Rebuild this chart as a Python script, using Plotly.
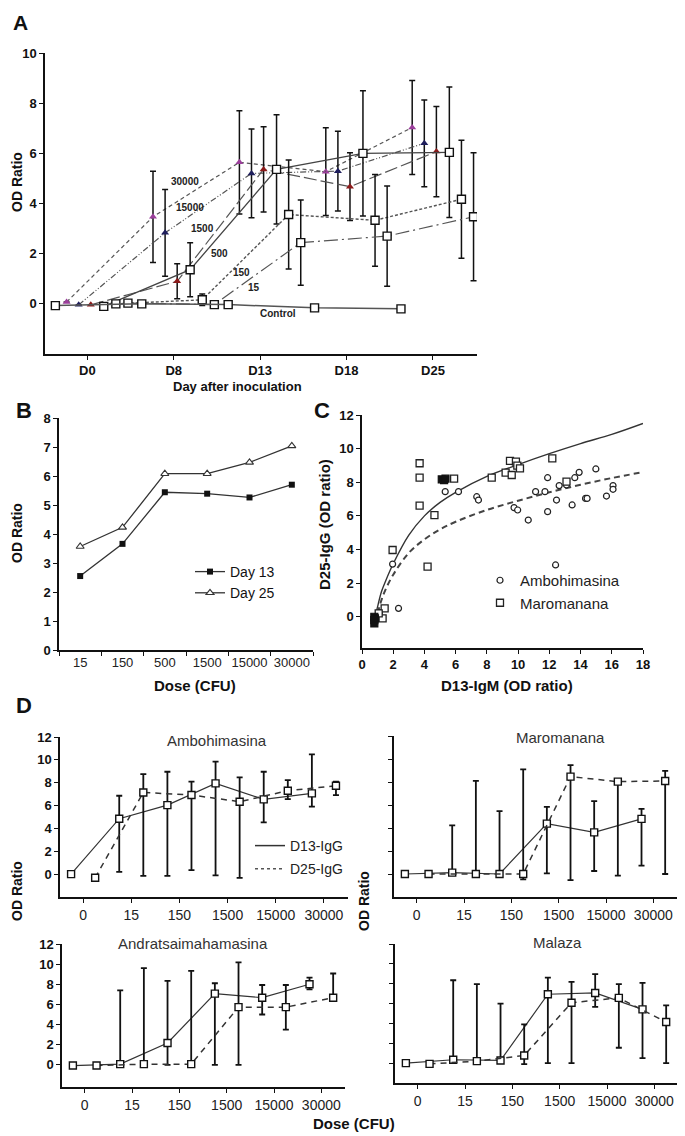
import plotly.graph_objects as go

# ---------------- Panel A data ----------------
days = ["D0", "D8", "D13", "D18", "D25"]
a_groups = ["30000", "15000", "1500", "500", "150", "15", "Control"]
a_vals = {
    "30000": [0.07, 3.47, 5.64, 5.27, 7.03],
    "15000": [-0.04, 2.83, 5.20, 5.29, 6.40],
    "1500": [-0.04, 0.90, 5.36, 4.67, 6.07],
    "500": [-0.10, 1.36, 5.36, 6.00, 6.04],
    "150": [0.00, 0.16, 3.56, 3.33, 4.17],
    "15": [0.03, -0.03, 2.44, 2.70, 3.47],
    "Control": [-0.07, 0.00, -0.03, -0.16, -0.20],
}
a_err = {
    "30000": [0, 1.82, 2.06, 1.75, 1.87],
    "15000": [0, 1.73, 1.77, 1.59, 1.73],
    "1500": [0, 0.70, 1.70, 1.35, 1.80],
    "500": [0, 1.08, 2.18, 2.50, 2.60],
    "150": [0, 0.23, 2.17, 1.83, 2.35],
    "15": [0, 0, 1.70, 2.00, 2.55],
    "Control": [0, 0, 0, 0, 0],
}

# ---------------- Panel B data ----------------
b_doses = ["15", "150", "500", "1500", "15000", "30000"]
b_day13 = [2.55, 3.66, 5.44, 5.39, 5.26, 5.70]
b_day25 = [3.57, 4.23, 6.08, 6.08, 6.47, 7.04]

# ---------------- Panel C data ----------------
c_amb_x = [0.9, 1.11, 1.96, 2.34, 5.33, 6.18, 7.35, 7.46, 9.74, 9.97, 10.65, 11.12, 11.72, 11.89,
           11.89, 12.46, 12.63, 12.40, 13.10, 13.46, 13.63, 13.91, 14.32, 14.42, 14.98, 15.66,
           16.08, 16.08]
c_amb_y = [0.0, 0.24, 3.13, 0.50, 7.44, 7.44, 7.14, 6.94, 6.49, 6.35, 5.75, 7.44, 7.44, 8.27,
           6.25, 6.94, 7.80, 3.08, 7.84, 6.65, 8.27, 8.59, 7.04, 7.04, 8.79, 7.18, 7.80, 7.58]
c_mar_x = [3.69, 3.69, 3.69, 1.96, 4.20, 4.64, 5.90, 8.31, 9.20, 9.59, 9.48, 9.86, 9.95, 10.12,
           12.19, 13.10, 1.45, 1.32, 1.07]
c_mar_y = [9.13, 8.27, 6.61, 3.97, 2.98, 6.05, 8.21, 8.27, 8.57, 8.43, 9.27, 9.23, 8.99, 8.83,
           9.42, 8.04, 0.50, -0.10, 0.20]
c_mar_dense_x = [5.11, 5.26, 5.35, 0.79, 0.79, 0.79, 0.83]
c_mar_dense_y = [8.17, 8.13, 8.21, 0.0, -0.2, -0.4, -0.1]
c_fit1_x = [0.85, 1.0, 1.25, 1.5, 2, 3, 4, 5, 6, 8, 10, 12, 14, 16, 18]
c_fit1_y = [0.0, 0.6, 1.5, 2.1, 3.15, 4.85, 6.0, 6.8, 7.4, 8.35, 9.05, 9.7, 10.3, 10.85, 11.5]
c_fit2_x = [1.0, 1.25, 1.5, 2, 3, 4, 5, 6, 8, 10, 12, 14, 16, 18]
c_fit2_y = [0.2, 1.0, 1.6, 2.5, 3.8, 4.6, 5.2, 5.65, 6.35, 6.9, 7.4, 7.85, 8.25, 8.6]

# ---------------- Panel D data ----------------
d_doses = ["0", "15", "150", "1500", "15000", "30000"]
d_sites = ["Ambohimasina", "Maromanana", "Andratsaimahamasina", "Malaza"]
d13 = {
    "Ambohimasina": [0, 4.85, 6.04, 7.94, 6.54, 7.07],
    "Maromanana": [0, 0.12, 0, 4.38, 3.62, 4.79],
    "Andratsaimahamasina": [-0.07, 0.07, 2.17, 7.07, 6.67, 8.0],
    "Malaza": [0, 0.34, 0.27, 6.94, 7.07, 5.42],
}
d13_up = {
    "Ambohimasina": [0, 2.01, 2.92, 1.90, 2.42, 3.41],
    "Maromanana": [0, 4.11, 5.46, 1.46, 2.72, 0.87],
    "Andratsaimahamasina": [0, 7.33, 6.16, 1.03, 1.26, 0.67],
    "Malaza": [0, 8.01, 5.73, 1.68, 1.89, 2.66],
}
d13_dn = {
    "Ambohimasina": [0, 4.65, 6.19, 8.04, 2.01, 1.17],
    "Maromanana": [0, 0.12, 0, 4.32, 3.36, 4.06],
    "Andratsaimahamasina": [0, 0.07, 2.17, 7.07, 1.67, 0.50],
    "Malaza": [0, 0.34, 0.27, 6.94, 1.41, 4.92],
}
d25 = {
    "Ambohimasina": [-0.32, 7.15, 6.92, 6.34, 7.30, 7.74],
    "Maromanana": [0, 0, 0, 8.47, 8.03, 8.09],
    "Andratsaimahamasina": [-0.07, 0.07, 0.07, 5.73, 5.73, 6.67],
    "Malaza": [-0.07, 0.20, 0.77, 6.09, 6.57, 4.14],
}
d25_up = {
    "Ambohimasina": [0, 1.61, 1.17, 2.13, 0.93, 0.35],
    "Maromanana": [0, 8.09, 9.10, 0.99, 0, 0.87],
    "Andratsaimahamasina": [0, 9.53, 9.26, 4.44, 2.20, 2.40],
    "Malaza": [0, 7.75, 3.13, 2.09, 1.38, 1.68],
}
d25_dn = {
    "Ambohimasina": [0, 7.30, 6.57, 6.66, 0.73, 0.82],
    "Maromanana": [0, 0.23, 0.47, 9.00, 8.18, 8.09],
    "Andratsaimahamasina": [0, 0.07, 0.07, 5.73, 2.23, 0.30],
    "Malaza": [0, 0.20, 0.87, 6.09, 5.02, 4.14],
}

# ---------------- layout helpers ----------------
W, H = 685, 1136
PAGE_OFFSET = 8  # default <body> margin of the page that holds the figure
FONT = "Liberation Sans, Arial, Helvetica, sans-serif"
INK = "#111111"


def px(x):
    return (x - PAGE_OFFSET) / W


def py(y):
    return 1 - (y - PAGE_OFFSET) / H


def xd(a, b):
    return [px(a), px(b)]


def yd(top, bottom):
    return [py(bottom), py(top)]


def axis(**kw):
    base = dict(showline=True, linecolor=INK, linewidth=1.5, ticks="outside", ticklen=4,
                tickwidth=1.3, tickcolor=INK, showgrid=False, zeroline=False, tickangle=0,
                tickfont=dict(family=FONT, size=13, color=INK, weight="bold"))
    base.update(kw)
    return base


fig = go.Figure()

# ---------------- Panel A ----------------
A_OFFSET = {"30000": -0.24, "15000": -0.10, "1500": 0.04, "500": 0.19,
            "150": 0.33, "15": 0.47, "Control": -0.37}
A_STYLE = {
    "30000": dict(line=dict(color="#555", width=1.2, dash="4px,3px"),
                  marker=dict(symbol="triangle-up", size=7, color="#9b3f9b")),
    "15000": dict(line=dict(color="#555", width=1.2, dash="6px,2px,1px,2px,1px,2px"),
                  marker=dict(symbol="triangle-up", size=7, color="#1e1e5c")),
    "1500": dict(line=dict(color="#555", width=1.2, dash="13px,4px"),
                 marker=dict(symbol="triangle-up", size=7, color="#8b1a1a")),
    "500": dict(line=dict(color="#444", width=1.3),
                marker=dict(symbol="square", size=8, color="white", line=dict(color=INK, width=1.4))),
    "150": dict(line=dict(color="#555", width=1.4, dash="3px,2px"),
                marker=dict(symbol="square", size=8, color="white", line=dict(color=INK, width=1.4))),
    "15": dict(line=dict(color="#555", width=1.2, dash="14px,4px,2px,4px"),
               marker=dict(symbol="square", size=8, color="white", line=dict(color=INK, width=1.4))),
    "Control": dict(line=dict(color="#555", width=1.5),
                    marker=dict(symbol="square", size=8, color="white", line=dict(color=INK, width=1.4))),
}
for g in a_groups:
    xs = [i + A_OFFSET[g] for i in range(len(days))]
    fig.add_trace(go.Scatter(
        x=xs, y=a_vals[g], mode="lines+markers", name=g, showlegend=False,
        error_y=dict(type="data", array=a_err[g], visible=True, color=INK, thickness=1.5, width=3),
        xaxis="x", yaxis="y", **A_STYLE[g]))

A_LABEL_POS = {"30000": (1.13, 4.88), "15000": (1.19, 3.84), "1500": (1.33, 3.0),
               "500": (1.53, 2.02), "150": (1.78, 1.25), "15": (1.93, 0.64),
               "Control": (2.21, -0.37)}
annotations = []
for g in a_groups:
    lx, ly = A_LABEL_POS[g]
    annotations.append(dict(x=lx, y=ly, xref="x", yref="y", text=g, showarrow=False,
                            font=dict(family=FONT, size=10, color="#222", weight="bold")))

# ---------------- Panel B ----------------
fig.add_trace(go.Scatter(x=b_doses, y=b_day13, mode="lines+markers", name="Day 13",
                         line=dict(color="#333", width=1.3),
                         marker=dict(symbol="square", size=6, color=INK),
                         xaxis="x2", yaxis="y2", legend="legend"))
fig.add_trace(go.Scatter(x=b_doses, y=b_day25, mode="lines+markers", name="Day 25",
                         line=dict(color="#333", width=1.3),
                         marker=dict(symbol="triangle-up", size=7, color="white",
                                     line=dict(color="#333", width=1.1)),
                         xaxis="x2", yaxis="y2", legend="legend"))

# ---------------- Panel C ----------------
fig.add_trace(go.Scatter(x=c_fit1_x, y=c_fit1_y, mode="lines", line=dict(color="#333", width=1.4, shape="spline"),
                         showlegend=False, xaxis="x3", yaxis="y3"))
fig.add_trace(go.Scatter(x=c_fit2_x, y=c_fit2_y, mode="lines",
                         line=dict(color="#444", width=2, dash="6px,4px", shape="spline"),
                         showlegend=False, xaxis="x3", yaxis="y3"))
fig.add_trace(go.Scatter(x=c_amb_x, y=c_amb_y, mode="markers", name="Ambohimasina",
                         marker=dict(symbol="circle", size=6, color="white", line=dict(color="#222", width=1.2)),
                         xaxis="x3", yaxis="y3", legend="legend2"))
fig.add_trace(go.Scatter(x=c_mar_x, y=c_mar_y, mode="markers", name="Maromanana",
                         marker=dict(symbol="square", size=7, color="white", line=dict(color="#222", width=1.3)),
                         xaxis="x3", yaxis="y3", legend="legend2"))
fig.add_trace(go.Scatter(x=c_mar_dense_x, y=c_mar_dense_y, mode="markers", name="Maromanana",
                         marker=dict(symbol="square", size=7, color="#111", line=dict(color="#111", width=1.2)),
                         xaxis="x3", yaxis="y3", showlegend=False))

# ---------------- Panel D ----------------
D_AXES = {"Ambohimasina": ("x4", "y4"), "Maromanana": ("x5", "y5"),
          "Andratsaimahamasina": ("x6", "y6"), "Malaza": ("x7", "y7")}
sq = dict(symbol="square", size=7, color="white", line=dict(color=INK, width=1.4))
for s in d_sites:
    xa, ya = D_AXES[s]
    fig.add_trace(go.Scatter(
        x=[i - 0.25 for i in range(len(d_doses))], y=d13[s], mode="lines+markers",
        line=dict(color="#333", width=1.2), marker=sq, showlegend=False,
        error_y=dict(type="data", symmetric=False, array=d13_up[s], arrayminus=d13_dn[s],
                     color=INK, thickness=1.8, width=3),
        xaxis=xa, yaxis=ya, name="D13-IgG"))
    fig.add_trace(go.Scatter(
        x=[i + 0.25 for i in range(len(d_doses))], y=d25[s], mode="lines+markers",
        line=dict(color="#333", width=1.5, dash="6px,5px"), marker=sq, showlegend=False,
        error_y=dict(type="data", symmetric=False, array=d25_up[s], arrayminus=d25_dn[s],
                     color=INK, thickness=1.8, width=3),
        xaxis=xa, yaxis=ya, name="D25-IgG"))

# legend-only entries for panel D (line samples)
fig.add_trace(go.Scatter(x=[None], y=[None], mode="lines", name="D13-IgG",
                         line=dict(color="#333", width=1.5), xaxis="x4", yaxis="y4",
                         legend="legend3", legendgroup="a"))
fig.add_trace(go.Scatter(x=[None], y=[None], mode="lines", name="D25-IgG",
                         line=dict(color="#555", width=1.5, dash="3px,3px"), xaxis="x4", yaxis="y4",
                         legend="legend3", legendgroup="b"))

# ---------------- text annotations ----------------
def txt(x, y, s, size, bold=True, angle=0, color=INK):
    annotations.append(dict(x=px(x), y=py(y), xref="paper", yref="paper", text=s,
                            showarrow=False, textangle=angle, xanchor="center", yanchor="middle",
                            font=dict(family=FONT, size=size, color=color,
                                      weight="bold" if bold else "normal")))


txt(20, 23, "A", 21)
txt(24, 411, "B", 22)
txt(322, 411, "C", 22)
txt(24, 705, "D", 22)
txt(17, 182, "OD Ratio", 14, angle=-90)
txt(237, 387, "Day after inoculation", 13)
txt(17, 533, "OD Ratio", 14, angle=-90)
txt(195, 685, "Dose (CFU)", 15)
txt(324, 525, "D25-IgG (OD ratio)", 15, angle=-90)
txt(507, 685, "D13-IgM (OD ratio)", 15)
txt(17, 891, "OD Ratio", 14, angle=-90)
txt(364, 901, "OD Ratio", 14, angle=-90)
txt(354, 1123, "Dose (CFU)", 15)
txt(217, 741, "Ambohimasina", 15, bold=False, color="#333")
txt(560, 737, "Maromanana", 15, bold=False, color="#333")
txt(193, 943, "Andratsaimahamasina", 15, bold=False, color="#333")
txt(557, 942, "Malaza", 15, bold=False, color="#333")

# ---------------- axes ----------------
dfont = dict(family=FONT, size=14, color="#222")
layout_axes = dict(
    xaxis=axis(domain=xd(45, 477), range=[-0.49, 4.51], tickvals=list(range(len(days))),
               ticktext=days, anchor="y"),
    yaxis=axis(domain=yd(53, 354), range=[-2, 10], tickvals=[0, 2, 4, 6, 8, 10], anchor="x"),
    xaxis2=axis(domain=xd(59, 313), type="category", range=[-0.5, 5.5], tickson="boundaries",
                tickfont=dict(family=FONT, size=13, color="#222"), anchor="y2"),
    yaxis2=axis(domain=yd(418, 650), range=[0, 8], dtick=1, anchor="x2"),
    xaxis3=axis(domain=xd(362, 643), range=[0, 18], dtick=2, anchor="y3"),
    yaxis3=axis(domain=yd(415, 648), range=[-1.86, 12], tickvals=[0, 2, 4, 6, 8, 10, 12], anchor="x3"),
    xaxis4=axis(domain=xd(60, 348), range=[-0.48, 5.5], tickvals=list(range(6)), ticktext=d_doses,
                tickfont=dfont, anchor="y4"),
    yaxis4=axis(domain=yd(737, 897), range=[-2, 12], tickvals=[0, 2, 4, 6, 8, 10, 12], anchor="x4"),
    xaxis5=axis(domain=xd(394, 677), range=[-0.48, 5.5], tickvals=list(range(6)), ticktext=d_doses,
                tickfont=dfont, anchor="y5"),
    yaxis5=axis(domain=yd(736, 897), range=[-2, 12], tickvals=[0, 2, 4, 6, 8, 10, 12],
                showticklabels=False, anchor="x5"),
    xaxis6=axis(domain=xd(62, 345), range=[-0.48, 5.5], tickvals=list(range(6)), ticktext=d_doses,
                tickfont=dfont, anchor="y6"),
    yaxis6=axis(domain=yd(944, 1087), range=[-2.2, 12], tickvals=[0, 2, 4, 6, 8, 10, 12], anchor="x6"),
    xaxis7=axis(domain=xd(395, 678), range=[-0.48, 5.5], tickvals=list(range(6)), ticktext=d_doses,
                tickfont=dfont, anchor="y7"),
    yaxis7=axis(domain=yd(944, 1083), range=[-2, 12], tickvals=[0, 2, 4, 6, 8, 10, 12],
                showticklabels=False, anchor="x7"),
)

fig.update_layout(
    width=W, height=H, margin=dict(l=0, r=0, t=0, b=0, autoexpand=False),
    paper_bgcolor="white", plot_bgcolor="white",
    font=dict(family=FONT, color=INK),
    annotations=annotations,
    legend=dict(x=px(190), y=py(556), xanchor="left", yanchor="top", bgcolor="rgba(0,0,0,0)",
                font=dict(family=FONT, size=14, color=INK), itemwidth=30, tracegroupgap=0),
    legend2=dict(x=px(480), y=py(564), xanchor="left", yanchor="top", bgcolor="rgba(0,0,0,0)",
                 font=dict(family=FONT, size=15, color="#222"), itemwidth=30),
    legend3=dict(x=px(250), y=py(830), xanchor="left", yanchor="top", bgcolor="rgba(0,0,0,0)",
                 font=dict(family=FONT, size=14, color="#222"), itemwidth=30, tracegroupgap=2),
    **layout_axes,
)

fig.write_html("out.html")
